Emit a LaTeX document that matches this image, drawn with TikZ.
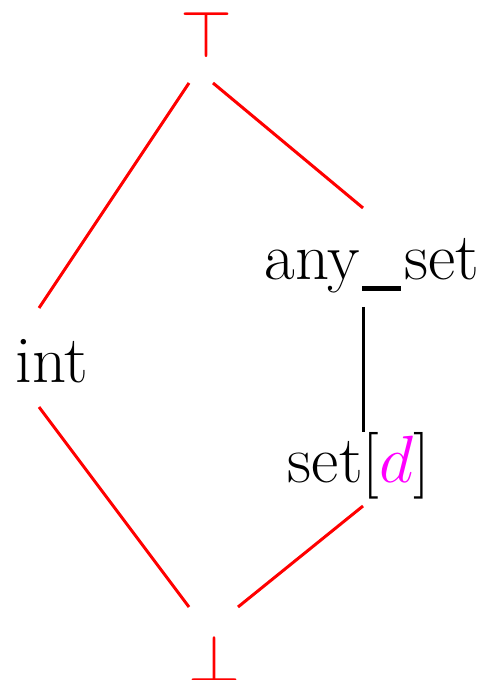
\RequirePackage{fix-cm}
\documentclass[tikz,border=0pt]{standalone}
\usepackage{tikz}
\usetikzlibrary{positioning}
\definecolor{varpink}{RGB}{255,0,255}
\newcommand\ubar{\kern0.6pt\rule[-3.1pt]{11pt}{1.4pt}\kern1pt}

\begin{document}
\begin{tikzpicture}[x=0.01cm, y=-0.01cm,
      lat/.style={inner sep=0pt, anchor=base, font=\fontsize{19}{23}\selectfont},
      latred/.style={lat, text=red},
      order/.style={red, line width=0.85pt},
      subset/.style={black, line width=0.85pt}
    ]
    \useasboundingbox (0,0) rectangle (485,680);
    \node[latred] (top) at (206,58) {$\top$};
    \node[lat] (int) at (52,383) {int};
    \node[lat] (anyset) at (372,280) {any\ubar set};
    \node[lat] (setd) at (359,482) {set$[\textcolor{varpink}{d}]$};
    \node[latred] (bot) at (214,681) {$\bot$};
    \draw[order] ([shift={(-17,25)}]top.base) -- ([shift={(-13,-75)}]int.base);
    \draw[order] ([shift={(7,25)}]top.base) -- ([shift={(-9,-72)}]anyset.base);
    \draw[subset] ([shift={(-9,27)}]anyset.base) -- ([shift={(4,-50)}]setd.base);
    \draw[order] ([shift={(-13,24)}]int.base) -- ([shift={(-25,-74)}]bot.base);
    \draw[order] ([shift={(4,24)}]setd.base) -- ([shift={(24,-74)}]bot.base);
  \end{tikzpicture}
\end{document}
